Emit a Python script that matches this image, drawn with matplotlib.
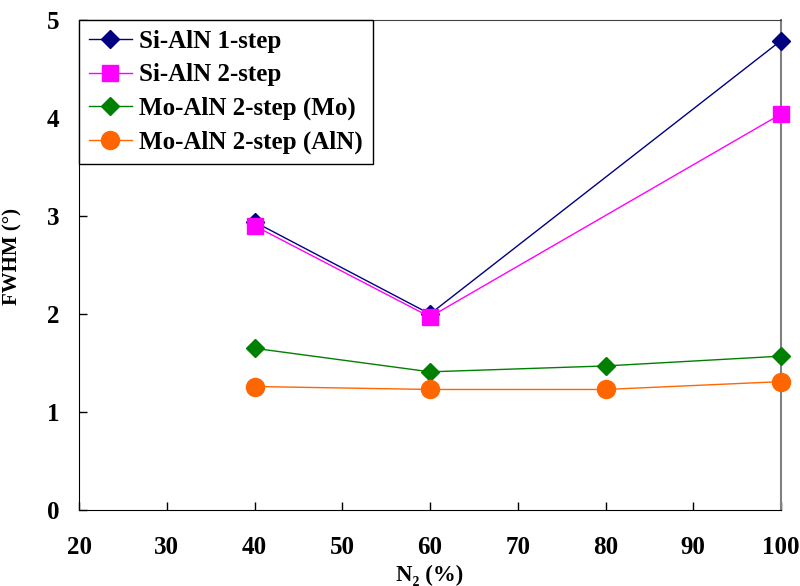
import numpy as np
import matplotlib.pyplot as plt

plt.rcParams['font.family'] = ['Liberation Serif', 'DejaVu Serif']

# data
n2_si = [40, 60, 100]
fwhm_si_1step = [2.94, 2.00, 4.79]
fwhm_si_2step = [2.90, 1.97, 4.04]
n2_mo = [40, 60, 80, 100]
fwhm_mo_mo = [1.65, 1.41, 1.47, 1.57]
fwhm_mo_aln = [1.26, 1.23, 1.23, 1.31]

fig = plt.figure(figsize=(8, 5.86), dpi=100)
ax = fig.add_axes([79/800, 1 - 510/586, (781-79)/800, (510-20)/586])

ax.plot(n2_si, fwhm_si_1step, color='#000080', marker='D', markersize=9, lw=1,
        label='Si-AlN 1-step', clip_on=False, zorder=3)
ax.plot(n2_si, fwhm_si_2step, color='#FF00FF', marker='s', markersize=11, lw=1,
        label='Si-AlN 2-step', clip_on=False, zorder=4)
ax.plot(n2_mo, fwhm_mo_mo, color='#008000', marker='D', markersize=9, lw=1,
        label='Mo-AlN 2-step (Mo)', clip_on=False, zorder=3)
ax.plot(n2_mo, fwhm_mo_aln, color='#FF6600', marker='o', markersize=13, lw=1,
        label='Mo-AlN 2-step (AlN)', clip_on=False, zorder=3)

ax.set_xlim(20, 100)
ax.set_ylim(0, 5)
ax.set_xticks(np.arange(20, 101, 10))
ax.set_yticks(np.arange(0, 6, 1))
ax.tick_params(axis='x', direction='in', length=6, pad=19, labelsize=18, width=1)
ax.tick_params(axis='y', direction='in', length=6, pad=14, labelsize=18, width=1)
for lab in ax.get_xticklabels() + ax.get_yticklabels():
    lab.set_fontweight('bold')

ax.spines['right'].set_color('#808080')
ax.spines['right'].set_linewidth(1.5)
ax.spines['top'].set_color('#404040')
ax.spines['top'].set_linewidth(0.8)

ax.set_xlabel('N₂ (%)', fontsize=16.5, fontweight='bold')
ax.xaxis.set_label_coords(0.5, -0.133)
ax.xaxis.label.set_va('center')
ax.set_ylabel('FWHM (°)', fontsize=15, fontweight='bold')
ax.yaxis.set_label_coords(-0.08, 0.518)

leg = ax.legend(loc='upper left', borderaxespad=0, fontsize=18, fancybox=False,
                edgecolor='black', framealpha=1, handlelength=1.7,
                handletextpad=0.3, labelspacing=0.42, borderpad=0.4)
leg.get_frame().set_linewidth(1)
for t in leg.get_texts():
    t.set_fontweight('bold')

fig.savefig('out.png', dpi=100)
